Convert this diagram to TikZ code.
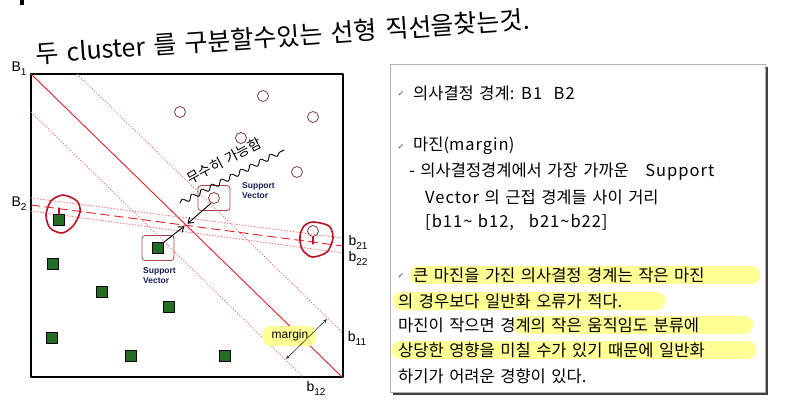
\documentclass[tikz,border=0pt]{standalone}
\usepackage{fontspec}
\setmainfont{Liberation Sans}
\newfontfamily\krfont[WordSpace=2.1]{Noto Sans CJK KR}
\newfontfamily\ttlfont[WordSpace=1.5]{Noto Sans CJK KR}
\newfontfamily\latfont[LetterSpace=6]{Noto Sans CJK KR}
\newfontfamily\symfont{DejaVu Sans}
\usetikzlibrary{arrows.meta,decorations.pathmorphing}
\definecolor{bdred}{RGB}{230,30,40}
\definecolor{mgred}{RGB}{240,110,120}
\definecolor{ptbrown}{RGB}{130,60,60}
\definecolor{ptgreen}{RGB}{35,110,35}
\definecolor{svred}{RGB}{170,70,70}
\definecolor{svnavy}{RGB}{20,30,90}
\definecolor{hdred}{RGB}{185,20,35}
\definecolor{hlyel}{RGB}{255,255,150}
\newcommand{\sub}[1]{{\fontsize{10}{10}\selectfont\raisebox{-4pt}{#1}}}
\newcommand{\lat}[1]{{\latfont #1}}

\begin{document}
\begin{tikzpicture}[x=1pt,y=-1pt,line cap=round,line join=round,
  redln/.style={color=bdred,line width=0.9pt},
  mgnln/.style={color=mgred,line width=0.9pt,dash pattern=on 0.8pt off 2.2pt},
  circpt/.style={circle,draw=ptbrown,line width=0.8pt,minimum size=11pt,inner sep=0pt},
  sqpt/.style={rectangle,draw=black,fill=ptgreen,line width=0.8pt,minimum size=11pt,inner sep=0pt},
  svbox/.style={draw=svred,rounded corners=3pt,line width=0.8pt,minimum width=32pt,minimum height=25pt},
  svlbl/.style={font=\fontsize{8.5}{10}\selectfont\bfseries,text=svnavy,align=left,anchor=west,inner sep=0pt},
  hand/.style={color=hdred,line width=1.6pt},
  lbl/.style={font=\fontsize{14}{14}\selectfont,inner sep=0pt},
  note/.style={font=\krfont\fontsize{16.5}{18}\selectfont,anchor=west,inner sep=0pt},
  chk/.style={font=\symfont\fontsize{8}{8}\selectfont,text=black!70,inner sep=0pt},
  hilite/.style={fill=hlyel,rounded corners=8pt}]
\useasboundingbox (0,0) rectangle (795,417);
\fill (20,0) rectangle (24,5);
% handwritten title
\node[rotate=4,anchor=west,font=\ttlfont\fontsize{25}{27}\selectfont] (title) at (32,54) {두 cluster 를 구분할수있는 선형 직선을찾는것.};
% plot frame and boundaries
\draw[line width=1.2pt] (31,74) rectangle (343,377);
\coordinate (B1a) at (31,74);
\coordinate (B1b) at (342,377);
\coordinate (B2a) at (31,205);
\coordinate (B2b) at (343,246);
\coordinate (cross) at (186,225);
\draw[redln] (B1a) -- (B1b);
\draw[mgnln] (77,74) -- (343,333);
\draw[mgnln] (31,112) -- (303,377);
\draw[redln,dash pattern=on 9pt off 5pt] (B2a) -- (B2b);
\draw[mgnln] (31,198) -- (343,238);
\draw[mgnln] (31,211) -- (343,253);
% class points
\node[circpt] (c1) at (180,112) {};
\node[circpt] (c2) at (263,96) {};
\node[circpt] (c3) at (313,117) {};
\node[circpt] (c4) at (241,138) {};
\node[circpt] (c5) at (297,172) {};
\node[circpt] (c6) at (214,198) {};
\node[circpt] (c7) at (313,231) {};
\node[sqpt] (s1) at (59,220) {};
\node[sqpt] (s2) at (158,248) {};
\node[sqpt] (s3) at (53,264) {};
\node[sqpt] (s4) at (102,292) {};
\node[sqpt] (s5) at (169,307) {};
\node[sqpt] (s6) at (52,338) {};
\node[sqpt] (s7) at (131,356) {};
\node[sqpt] (s8) at (225,356) {};
% support vectors
\node[svbox] (sv1) at (c6) {};
\node[svbox] (sv2) at (s2) {};
\node[svlbl] (sv1t) at (242,191) {Support\\Vector};
\node[svlbl] (sv2t) at (143,276) {Support\\Vector};
\draw[-{Straight Barb[length=5pt,width=7pt]},line width=0.9pt,shorten >=2pt] (c6.-120) -- (cross);
\draw[-{Straight Barb[length=5pt,width=7pt]},line width=0.9pt,shorten >=2pt] (s2.45) -- (cross);
% hand notes
\draw[decorate,decoration={snake,amplitude=2.5pt,segment length=11pt},line width=0.9pt] (180,203) -- (284,150);
\node[rotate=28,font=\krfont\fontsize{14}{15}\selectfont,inner sep=0pt] (infty) at (224,161) {무수히 가능함};
\draw[hand] plot[smooth cycle] coordinates {(63,195) (77,201) (80,212) (73,226) (62,233) (50,228) (46,215) (51,201)};
\draw[hand] (s1.north) -- ++(0,-6);
\draw[hand] plot[smooth cycle] coordinates {(313,222) (329,226) (333,238) (327,252) (312,257) (302,249) (300,236) (304,226)};
\draw[hand] (c7.south) -- ++(0,7);
% margin
\fill[hilite] (263,326) rectangle (316,346);
\node[font=\fontsize{12}{12}\selectfont] (mgn) at (290,335) {margin};
\coordinate (m1) at (286,359);
\coordinate (m2) at (327,319);
\draw[{Stealth[length=4pt]}-{Stealth[length=4pt]},line width=0.6pt,black!80] (m1) -- (m2);
% labels
\node[lbl] (B1) at (19,69) {B\sub{1}};
\node[lbl] (B2) at (19,204) {B\sub{2}};
\node[lbl] (b21) at (358,242) {b\sub{21}};
\node[lbl] (b22) at (358,258) {b\sub{22}};
\node[lbl] (b11) at (357,338) {b\sub{11}};
\node[lbl] (b12) at (316,388) {b\sub{12}};
% note box
\fill[black!75] (393,67) rectangle (768,395);
\draw[gray!60,fill=white] (390,64) rectangle (765,392);
\fill[hilite] (410,266) rectangle (760,284);
\fill[hilite] (393,292) rectangle (665,310);
\fill[hilite] (513,316) rectangle (753,334);
\fill[hilite] (392,341) rectangle (756,359);
\node[chk] (k1) at (401,94) {✓};
\node[chk] (k2) at (401,147) {✓};
\node[chk] (k3) at (401,276) {✓};
\node[note] (l1) at (413,93) {의사결정 경계: \lat{B1}\hspace{0.7em}\lat{B2}};
\node[note] (l2) at (413,146) {마진(\lat{margin})};
\node[note] (l3) at (409,172) {- 의사결정경계에서 가장 가까운\hspace{1em}\lat{Support}};
\node[note] (l4) at (425,197) {\lat{Vector} 의 근접 경계들 사이 거리};
\node[note] (l5) at (425,222) {\lat{[b11\textasciitilde}\ \lat{b12,}\hspace{0.9em}\lat{b21\textasciitilde b22]}};
\node[note] (l6) at (413,275) {큰 마진을 가진 의사결정 경계는 작은 마진};
\node[note] (l7) at (398,301) {의 경우보다 일반화 오류가 적다.};
\node[note] (l8) at (398,325) {마진이 작으면 경계의 작은 움직임도 분류에};
\node[note] (l9) at (398,350) {상당한 영향을 미칠 수가 있기 때문에 일반화};
\node[note] (l10) at (398,376) {하기가 어려운 경향이 있다.};
\end{tikzpicture}
\end{document}
